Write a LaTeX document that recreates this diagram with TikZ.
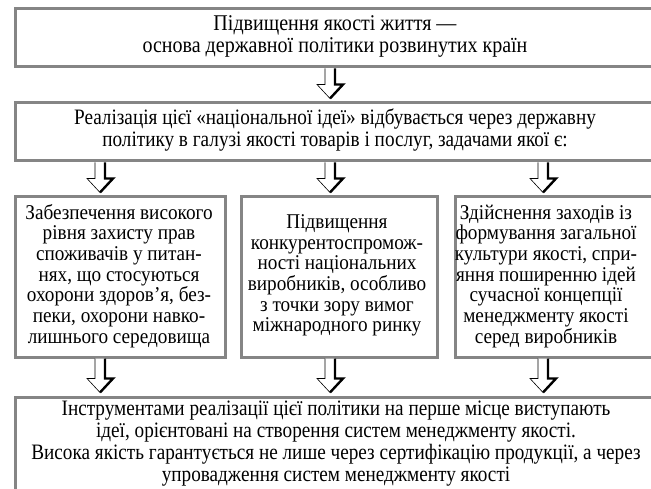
\documentclass[tikz,border=0pt]{standalone}
\usepackage{fontspec}
\setmainfont{Liberation Serif}[FakeStretch=0.8]
\newfontfamily\fonta{Liberation Serif}[FakeStretch=0.89]
\newfontfamily\fontb{Liberation Serif}[FakeStretch=0.873]
\newfontfamily\fontc{Liberation Serif}[FakeStretch=0.915]
\usetikzlibrary{calc}
\definecolor{boxgray}{HTML}{858585}
\newcommand\ftop{\rule{0pt}{15pt}}
\newcommand\fbot{\rule[-4.5pt]{0pt}{4.5pt}}
\newcommand\tightlines{\lineskiplimit=-30pt\relax}
\newcommand\blockarrow[2]{%
  \fill[white] ($(#1)+(-5,0)$) -- ($(#2)+(-5,-14)$) -- ($(#2)+(-13,-14)$) -- (#2) -- ($(#2)+(13,-14)$) -- ($(#2)+(5,-14)$) -- ($(#1)+(5,0)$) -- cycle;
  \draw[line width=0.6pt] ($(#1)+(-5,0)$) -- ($(#2)+(-5,-14)$) -- ($(#2)+(-13,-14)$) -- (#2);
  \draw[line width=2.4pt] (#2) -- ($(#2)+(13,-14)$) -- ($(#2)+(5,-14)$) -- ($(#1)+(5,0)$);
}
\begin{document}
\begin{tikzpicture}[x=1pt,y=-1pt,
  box/.style={draw=boxgray, line width=3pt, fill=white, inner sep=0pt, anchor=north west},
  txta/.style={align=center, font=\fonta\fontsize{22.5}{22}\selectfont\tightlines, inner sep=0pt},
  txt/.style={align=center, font=\fontb\fontsize{22}{22}\selectfont\tightlines, inner sep=0pt},
  txtb/.style={align=center, font=\fontc\fontsize{21}{20.7}\selectfont\tightlines, inner sep=0pt}]
\useasboundingbox (0,0) rectangle (651,489);
\clip (0,0) rectangle (651,489);
\coordinate (cL) at (100,0);
\coordinate (cM) at (330,0);
\coordinate (cR) at (543,0);
% boxes
\node[box, minimum width=650pt, minimum height=58pt] (b1) at (13.5,7.5) {};
\node[box, minimum width=650pt, minimum height=58pt] (b2) at (13.5,101.5) {};
\node[box, minimum width=210.5pt, minimum height=160pt] (b3a) at (13.5,195.5) {};
\node[box, minimum width=196.5pt, minimum height=160pt] (b3b) at (239.5,195.5) {};
\node[box, minimum width=206.5pt, minimum height=160pt] (b3c) at (453.5,195.5) {};
\node[box, minimum width=650pt, minimum height=120pt] (b4) at (13.5,395.5) {};
% texts
\node[txta] (t1) at (335,36) {\ftop Підвищення якості життя —\\основа державної політики розвинутих країн\fbot};
\node[txt] (t2) at (335,130) {\ftop Реалізація цієї «національної ідеї» відбувається через державну\\політику в галузі якості товарів і послуг, задачами якої є:\fbot};
\node[txtb] (t3a) at (119,276) {\ftop Забезпечення високого\\рівня захисту прав\\споживачів у питан-\\нях, що стосуються\\охорони здоров’я, без-\\пеки, охорони навко-\\лишнього середовища\fbot};
\node[txtb] (t3b) at (337,275) {\ftop Підвищення\\конкурентоспромож-\\ності національних\\виробників, особливо\\з точки зору вимог\\міжнародного ринку\fbot};
\node[txtb] (t3c) at (546,276) {\ftop Здійснення заходів із\\формування загальної\\культури якості, спри-\\яння поширенню ідей\\сучасної концепції\\менеджменту якості\\серед виробників\fbot};
\node[txt] (t4) at (336,443) {\ftop Інструментами реалізації цієї політики на перше місце виступають\\ідеї, орієнтовані на створення систем менеджменту якості.\\Висока якість гарантується не лише через сертифікацію продукції, а через\\упровадження систем менеджменту якості\fbot};
% arrows
\coordinate (a1s) at (b1.south -| cM);
\coordinate (a1e) at ($(b2.north -| cM)+(0,-3)$);
\blockarrow{a1s}{a1e}
\coordinate (a2s) at (b2.south -| cL);
\coordinate (a2e) at ($(b3a.north -| cL)+(0,-3)$);
\blockarrow{a2s}{a2e}
\coordinate (a3s) at (b2.south -| cM);
\coordinate (a3e) at ($(b3b.north -| cM)+(0,-3)$);
\blockarrow{a3s}{a3e}
\coordinate (a4s) at (b2.south -| cR);
\coordinate (a4e) at ($(b3c.north -| cR)+(0,-3)$);
\blockarrow{a4s}{a4e}
\coordinate (a5s) at (b3a.south -| cL);
\coordinate (a5e) at ($(b4.north -| cL)+(0,-3)$);
\blockarrow{a5s}{a5e}
\coordinate (a6s) at (b3b.south -| cM);
\coordinate (a6e) at ($(b4.north -| cM)+(0,-3)$);
\blockarrow{a6s}{a6e}
\coordinate (a7s) at (b3c.south -| cR);
\coordinate (a7e) at ($(b4.north -| cR)+(0,-3)$);
\blockarrow{a7s}{a7e}
\end{tikzpicture}
\end{document}
